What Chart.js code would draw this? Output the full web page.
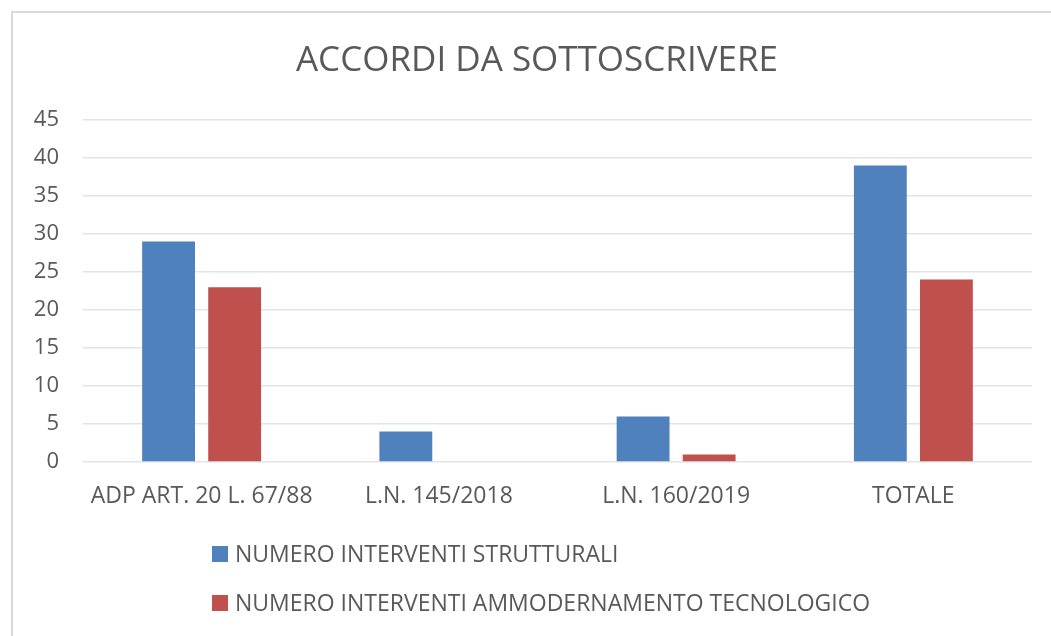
<!DOCTYPE html>
<html>
<head>
<meta charset="utf-8">
<script src="https://cdn.jsdelivr.net/npm/chart.js@4/dist/chart.umd.min.js"></script>
<style>
    html, body { margin: 0; padding: 0; background: #fff; }
    #wrap { position: relative; width: 1051px; height: 636px; overflow: hidden; }
    #frame { position: absolute; left: 11px; top: 11px; width: 1100px; height: 700px; border-left: 2px solid #d9d9d9; border-top: 2px solid #d9d9d9; }
    canvas { position: absolute; left: 0; top: 0; }
</style>
</head>
<body>
<div id="wrap">
    <div id="frame"></div>
    <canvas id="myChart" width="1051" height="636"></canvas>
</div>
<script>
// Données du graphique
const titre = 'ACCORDI DA SOTTOSCRIVERE';
const categories = ['ADP ART. 20 L. 67/88', 'L.N. 145/2018', 'L.N. 160/2019', 'TOTALE'];
const strutturali = [29, 4, 6, 39];
const tecnologico = [23, 0, 1, 24];
const nomiSerie = ['NUMERO INTERVENTI STRUTTURALI', 'NUMERO INTERVENTI AMMODERNAMENTO TECNOLOGICO'];
const coloriSerie = ['#4f81bd', '#c0504d'];

const police = '"Open Sans", "Noto Sans", sans-serif';
const gris = '#595959';

// Titre et légende verticale façon Excel
const titreEtLegende = {
    id: 'titreEtLegende',
    afterDraw(chart) {
        const ctx = chart.ctx;
        ctx.save();
        // Titre
        ctx.font = '35px ' + police;
        ctx.textAlign = 'center';
        ctx.textBaseline = 'middle';
        ctx.fillStyle = gris;
        ctx.fillText(titre, 537, 61);
        // Légende
        ctx.font = '23px ' + police;
        ctx.textAlign = 'left';
        const lignes = [554, 603];
        chart.data.datasets.forEach(function(ds, i) {
            const y = lignes[i];
            ctx.fillStyle = ds.backgroundColor;
            ctx.fillRect(212, y - 8, 16, 16);
            ctx.fillStyle = gris;
            ctx.fillText(ds.label, 235, y + 1);
        });
        ctx.restore();
    }
};

const chart = new Chart(document.getElementById('myChart'), {
    type: 'bar',
    data: {
        labels: categories,
        datasets: [{
            label: nomiSerie[0],
            data: strutturali,
            backgroundColor: coloriSerie[0],
            categoryPercentage: 0.557,
            barPercentage: 0.8
        }, {
            label: nomiSerie[1],
            data: tecnologico,
            backgroundColor: coloriSerie[1],
            categoryPercentage: 0.557,
            barPercentage: 0.8
        }]
    },
    options: {
        responsive: false,
        animation: false,
        layout: { padding: { top: 120, left: 0, right: 19, bottom: 127 } },
        plugins: {
            legend: { display: false },
            tooltip: { enabled: false },
            title: { display: false }
        },
        scales: {
            x: {
                grid: { display: false, drawTicks: false },
                border: { display: false },
                ticks: { color: gris, font: { family: police, size: 23 }, padding: 21, maxRotation: 0 },
                afterFit: function(scale) { scale.height = 47; }
            },
            y: {
                min: 0,
                max: 45,
                grid: { color: '#e4e4e4', lineWidth: 1.5, drawTicks: false },
                border: { display: false },
                ticks: { stepSize: 5, color: gris, font: { family: police, size: 22 }, padding: 24 },
                afterFit: function(scale) { scale.width = 83; }
            }
        }
    },
    plugins: [titreEtLegende]
});
</script>
</body>
</html>
